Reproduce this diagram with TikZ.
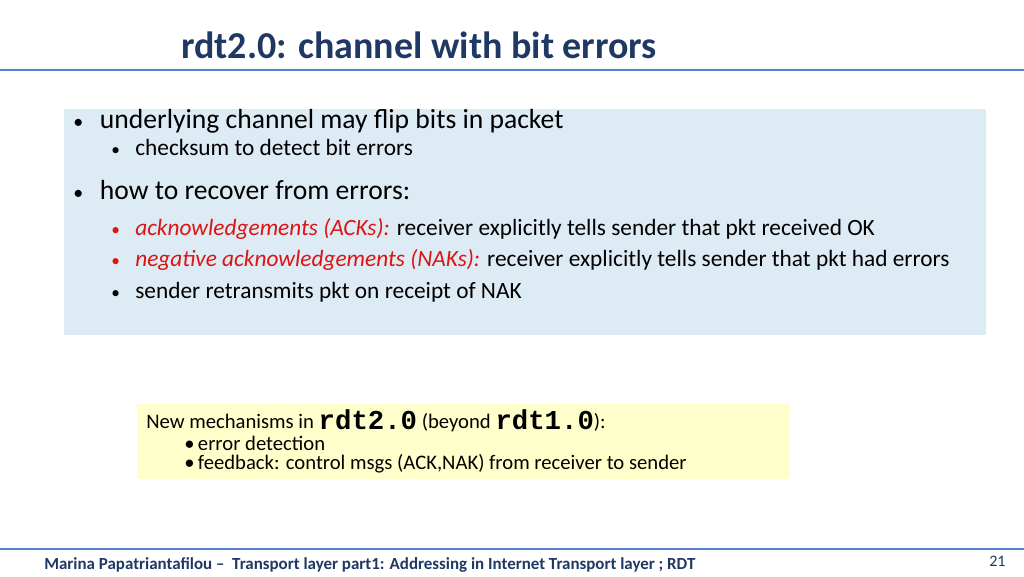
\documentclass[tikz,border=0pt]{standalone}
\usepackage{fontspec}
\setmainfont{Carlito}
\newfontfamily\codefont{Liberation Mono}
\definecolor{titleblue}{RGB}{31,56,100}
\definecolor{ruleblue}{RGB}{84,130,200}
\definecolor{panelblue}{RGB}{221,235,244}
\definecolor{noteyellow}{RGB}{255,255,204}
\definecolor{alertred}{RGB}{220,20,20}
\tikzset{
  txt/.style={anchor=west,inner sep=0pt},
  big/.style={txt,font=\fontsize{20.7}{23}\selectfont},
  small/.style={txt,font=\fontsize{17.5}{20}\selectfont},
  note/.style={txt,font=\fontsize{15.5}{17}\selectfont},
}
\newcommand{\alerttext}[1]{\textcolor{alertred}{\itshape #1}}
\newcommand{\bigdot}{\makebox[20pt][l]{\fontsize{15}{15}\selectfont\textbullet}}
\newcommand{\smalldot}{\makebox[18pt][l]{\fontsize{13}{13}\selectfont\textbullet}}
\begin{document}
\begin{tikzpicture}[x=0.75pt,y=-0.75pt]
		
		% Page
		\useasboundingbox (0,0) rectangle (1024,576);
		
		% Title
		\node[txt,text=titleblue,font=\fontsize{28.5}{30}\selectfont\bfseries] (title) at (181,45) {rdt2.0: channel with bit errors};
		\draw[ruleblue,line width=1.5pt] (0,70) -- (1024,70);
		
		% Blue panel
		\fill[panelblue] (64,109) rectangle (986,335);
		\node[big] (b1) at (73,121) {\bigdot underlying channel may flip bits in packet};
		\node[small] (b1a) at (111,147) {\smalldot checksum to detect bit errors};
		\node[big] (b2) at (73,190) {\bigdot how to recover from errors:};
		\node[small] (b2a) at (111,229) {\textcolor{alertred}{\smalldot}\alerttext{acknowledgements (ACKs):} receiver explicitly tells sender that pkt received OK};
		\node[small] (b2b) at (111,260) {\textcolor{alertred}{\smalldot}\alerttext{negative acknowledgements (NAKs):} receiver explicitly tells sender that pkt had errors};
		\node[small] (b2c) at (111,292) {\smalldot sender retransmits pkt on receipt of NAK};
		
		% Yellow note
		\fill[noteyellow] (137,404) rectangle (790,479);
		\node[note] (n0) at (146,421) {New mechanisms in \raisebox{-1pt}{\fontsize{20.5}{20}\selectfont\codefont\bfseries rdt2.0} (beyond \raisebox{-1pt}{\fontsize{20.5}{20}\selectfont\codefont\bfseries rdt1.0}):};
		\node[note] (n1) at (184,443) {\textbullet\,error detection};
		\node[note] (n2) at (184,464) {\textbullet\,feedback: control msgs (ACK,NAK) from receiver to sender};
		
		% Footer
		\draw[ruleblue,line width=1pt] (0,549) -- (1024,549);
		\node[txt,text=titleblue,font=\fontsize{12.7}{14}\selectfont\bfseries] (foot) at (44,565) {Marina Papatriantafilou --\ \ Transport layer part1: Addressing in Internet Transport layer ; RDT};
		\node[txt,text=titleblue,font=\fontsize{12}{14}\selectfont] (page) at (989,561) {21};
		
	\end{tikzpicture}
\end{document}
